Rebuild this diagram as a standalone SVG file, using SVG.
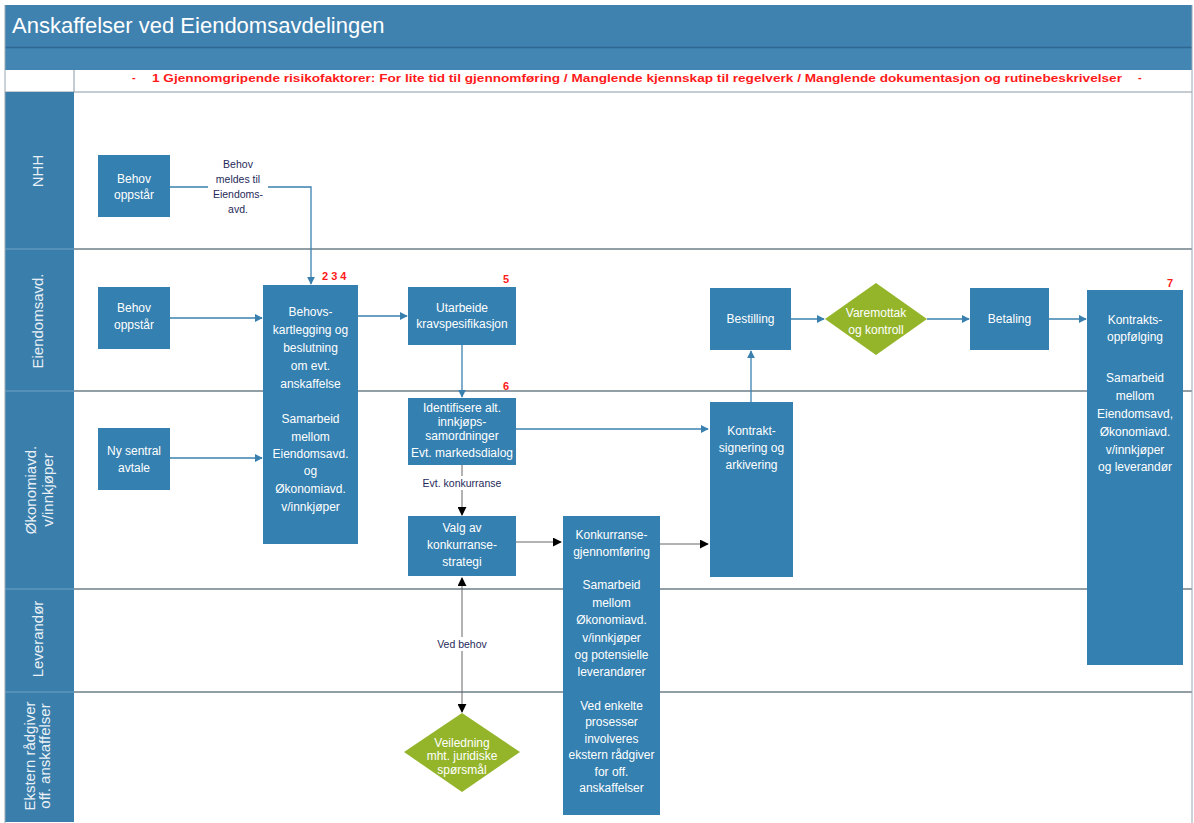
<svg xmlns="http://www.w3.org/2000/svg" width="1194" height="823" viewBox="0 0 1194 823">
<defs>
<style>
.node{fill:#3480b0;}
.dia{fill:#94b52a;}
.nt{font-family:"Liberation Sans","DejaVu Sans",sans-serif;font-size:12px;fill:#ffffff;text-anchor:middle;}
.lbl{font-family:"Liberation Sans","DejaVu Sans",sans-serif;font-size:10.5px;fill:#1f2a5a;text-anchor:middle;}
.lane{font-family:"Liberation Sans","DejaVu Sans",sans-serif;font-size:15px;fill:#e8f0f6;text-anchor:middle;}
.red{font-family:"Liberation Sans","DejaVu Sans",sans-serif;font-size:11px;font-weight:bold;fill:#ff1a1a;}
.sep{stroke:#6f7f8a;stroke-width:1.5;}
.cb{fill:none;stroke:#3a80ae;stroke-width:1.3;marker-end:url(#ab);}
.ck{fill:none;stroke:#666666;stroke-width:1;marker-end:url(#ak);}
</style>
<marker id="ab" viewBox="0 0 10 10" refX="9" refY="5" markerWidth="8" markerHeight="8" markerUnits="userSpaceOnUse" orient="auto"><path d="M0,0 L10,5 L0,10 Z" fill="#3a80ae"/></marker>
<marker id="ak" viewBox="0 0 10 10" refX="9" refY="5" markerWidth="9" markerHeight="9" markerUnits="userSpaceOnUse" orient="auto"><path d="M0,0 L10,5 L0,10 Z" fill="#000000"/></marker>
<marker id="aks" viewBox="0 0 10 10" refX="1" refY="5" markerWidth="9" markerHeight="9" markerUnits="userSpaceOnUse" orient="auto"><path d="M10,0 L0,5 L10,10 Z" fill="#000000"/></marker>
</defs>

<g id="frame">
<rect x="0" y="0" width="1194" height="823" fill="#ffffff"/>
<rect x="5" y="5" width="1187" height="43" fill="#3f82b0"/>
<rect x="5" y="48" width="1187" height="22" fill="#4386b3"/>
<line x1="5" y1="47.5" x2="1192" y2="47.5" stroke="#2d6690" stroke-width="1.5"/>
<rect x="5" y="70" width="1187" height="22" fill="#ffffff"/>
<line x1="74" y1="70" x2="74" y2="92" stroke="#8a9aa5" stroke-width="1"/>
<line x1="5" y1="92" x2="1192" y2="92" stroke="#8a9aa5" stroke-width="1"/>
<text x="12" y="33" font-family="'Liberation Sans','DejaVu Sans',sans-serif" font-size="22" fill="#ffffff">Anskaffelser ved Eiendomsavdelingen</text>
<text x="132" y="81" class="red" font-weight="normal" fill="#ff8080">-</text>
<text x="152" y="82" class="red" font-size="12.5" textLength="970" lengthAdjust="spacingAndGlyphs">1 Gjennomgripende risikofaktorer: For lite tid til gjennomføring / Manglende kjennskap til regelverk / Manglende dokumentasjon og rutinebeskrivelser</text>
<text x="1138" y="81" class="red" font-weight="normal" fill="#ff8080">-</text>
<rect x="5" y="92" width="69" height="730" fill="#3a7eab"/>
<line x1="5" y1="249" x2="74" y2="249" stroke="#5f97be" stroke-width="1.5"/>
<line x1="5" y1="391" x2="74" y2="391" stroke="#5f97be" stroke-width="1.5"/>
<line x1="5" y1="589" x2="74" y2="589" stroke="#5f97be" stroke-width="1.5"/>
<line x1="5" y1="692" x2="74" y2="692" stroke="#5f97be" stroke-width="1.5"/>
<line x1="74" y1="249" x2="1192" y2="249" class="sep"/>
<line x1="74" y1="391" x2="1192" y2="391" class="sep"/>
<line x1="74" y1="589" x2="1192" y2="589" class="sep"/>
<line x1="74" y1="692" x2="1192" y2="692" class="sep"/>
<line x1="1192" y1="5" x2="1192" y2="823" stroke="#9aa8b2" stroke-width="1"/>
<line x1="5" y1="5" x2="5" y2="823" stroke="#9aa8b2" stroke-width="1"/>
</g>

<g id="lanes">
<text class="lane" transform="translate(43,171) rotate(-90)">NHH</text>
<text class="lane" transform="translate(43,321) rotate(-90)">Eiendomsavd.</text>
<text class="lane" transform="translate(36,490) rotate(-90)">Økonomiavd.</text>
<text class="lane" transform="translate(53,490) rotate(-90)">v/innkjøper</text>
<text class="lane" transform="translate(43,639) rotate(-90)">Leverandør</text>
<text class="lane" font-size="13" transform="translate(35,756) rotate(-90)">Ekstern rådgiver</text>
<text class="lane" font-size="13" transform="translate(50,756) rotate(-90)">off. anskaffelser</text>
</g>

<g id="connectors">
<path class="cb" d="M170,187 H311 V284"/>
<rect x="208" y="156" width="60" height="60" fill="#ffffff"/>
<text class="lbl" x="238" y="168">Behov</text>
<text class="lbl" x="238" y="183">meldes til</text>
<text class="lbl" x="238" y="198">Eiendoms-</text>
<text class="lbl" x="238" y="213">avd.</text>
<path class="cb" d="M170,318 H262"/>
<path class="cb" d="M170,458 H262"/>
<path class="cb" d="M358,316 H407"/>
<path class="cb" d="M462,345 V397"/>
<path class="cb" d="M516,429 H708"/>
<path class="ck" d="M462,465 V515"/>
<rect x="415" y="476" width="94" height="14" fill="#ffffff"/>
<text class="lbl" x="462" y="487">Evt. konkurranse</text>
<path class="ck" d="M516,542 H561"/>
<path class="ck" d="M660,544 H708"/>
<path class="cb" d="M751,402 V351"/>
<path class="cb" d="M791,319 H824"/>
<path class="cb" d="M927,319 H969"/>
<path class="cb" d="M1049,319 H1086"/>
<path class="ck" d="M462,578 V712" marker-start="url(#aks)"/>
<rect x="428" y="637" width="68" height="14" fill="#ffffff"/>
<text class="lbl" x="462" y="648">Ved behov</text>
</g>

<g id="n1">
<rect class="node" x="98" y="155" width="72" height="62"/>
<text class="nt" x="134" y="183">Behov</text>
<text class="nt" x="134" y="199">oppstår</text>
</g>
<g id="n2">
<rect class="node" x="98" y="287" width="72" height="62"/>
<text class="nt" x="134" y="312">Behov</text>
<text class="nt" x="134" y="329">oppstår</text>
</g>
<g id="n3">
<rect class="node" x="98" y="428" width="72" height="62"/>
<text class="nt" x="134" y="455">Ny sentral</text>
<text class="nt" x="134" y="472">avtale</text>
</g>
<g id="n4">
<rect class="node" x="263" y="285" width="95" height="259"/>
<text class="nt" x="310.5" y="316">Behovs-</text>
<text class="nt" x="310.5" y="334">kartlegging og</text>
<text class="nt" x="310.5" y="352">beslutning</text>
<text class="nt" x="310.5" y="370">om evt.</text>
<text class="nt" x="310.5" y="388">anskaffelse</text>
<text class="nt" x="310.5" y="423">Samarbeid</text>
<text class="nt" x="310.5" y="441">mellom</text>
<text class="nt" x="310.5" y="458">Eiendomsavd.</text>
<text class="nt" x="310.5" y="475">og</text>
<text class="nt" x="310.5" y="493">Økonomiavd.</text>
<text class="nt" x="310.5" y="511">v/innkjøper</text>
<text class="red" x="322" y="280">2 3 4</text>
</g>
<g id="n5">
<rect class="node" x="408" y="287" width="108" height="58"/>
<text class="nt" x="462" y="312">Utarbeide</text>
<text class="nt" x="462" y="328">kravspesifikasjon</text>
<text class="red" x="503" y="283">5</text>
</g>
<g id="n6">
<rect class="node" x="408" y="398" width="108" height="67"/>
<text class="nt" font-size="11" x="462" y="412">Identifisere alt.</text>
<text class="nt" font-size="11" x="462" y="426">innkjøps-</text>
<text class="nt" font-size="11" x="462" y="440">samordninger</text>
<text class="nt" font-size="11" x="462" y="457">Evt. markedsdialog</text>
<text class="red" x="503" y="390">6</text>
</g>
<g id="n7">
<rect class="node" x="408" y="516" width="108" height="60"/>
<text class="nt" x="462" y="532">Valg av</text>
<text class="nt" x="462" y="549">konkurranse-</text>
<text class="nt" x="462" y="566">strategi</text>
</g>
<g id="n8">
<rect class="node" x="563" y="516" width="97" height="299"/>
<text class="nt" font-size="11.5" x="611.5" y="539">Konkurranse-</text>
<text class="nt" font-size="11.5" x="611.5" y="556">gjennomføring</text>
<text class="nt" font-size="11.5" x="611.5" y="589">Samarbeid</text>
<text class="nt" font-size="11.5" x="611.5" y="607">mellom</text>
<text class="nt" font-size="11.5" x="611.5" y="624">Økonomiavd.</text>
<text class="nt" font-size="11.5" x="611.5" y="642">v/innkjøper</text>
<text class="nt" font-size="11.5" x="611.5" y="659">og potensielle</text>
<text class="nt" font-size="11.5" x="611.5" y="676">leverandører</text>
<text class="nt" font-size="11.5" x="611.5" y="710">Ved enkelte</text>
<text class="nt" font-size="11.5" x="611.5" y="726">prosesser</text>
<text class="nt" font-size="11.5" x="611.5" y="743">involveres</text>
<text class="nt" font-size="11.5" x="611.5" y="759">ekstern rådgiver</text>
<text class="nt" font-size="11.5" x="611.5" y="776">for off.</text>
<text class="nt" font-size="11.5" x="611.5" y="792">anskaffelser</text>
</g>
<g id="n9">
<rect class="node" x="710" y="402" width="83" height="175"/>
<text class="nt" x="751.5" y="435">Kontrakt-</text>
<text class="nt" x="751.5" y="452">signering og</text>
<text class="nt" x="751.5" y="469">arkivering</text>
</g>
<g id="n10">
<rect class="node" x="710" y="288" width="81" height="62"/>
<text class="nt" x="750.5" y="323">Bestilling</text>
</g>
<g id="n11">
<polygon class="dia" points="876,283 927,319 876,355 825,319"/>
<text class="nt" x="876" y="317">Varemottak</text>
<text class="nt" x="876" y="334">og kontroll</text>
</g>
<g id="n12">
<rect class="node" x="970" y="288" width="79" height="62"/>
<text class="nt" x="1009.5" y="323">Betaling</text>
</g>
<g id="n13">
<rect class="node" x="1087" y="290" width="96" height="375"/>
<text class="nt" x="1135" y="324">Kontrakts-</text>
<text class="nt" x="1135" y="341">oppfølging</text>
<text class="nt" x="1135" y="382">Samarbeid</text>
<text class="nt" x="1135" y="400">mellom</text>
<text class="nt" x="1135" y="418">Eiendomsavd,</text>
<text class="nt" x="1135" y="436">Økonomiavd.</text>
<text class="nt" x="1135" y="454">v/innkjøper</text>
<text class="nt" x="1135" y="471">og leverandør</text>
<text class="red" x="1167" y="287">7</text>
</g>
<g id="n14">
<polygon class="dia" points="462,713 520,752 462,792 404,752"/>
<text class="nt" font-size="11.5" x="462" y="747">Veiledning</text>
<text class="nt" font-size="11.5" x="462" y="760">mht. juridiske</text>
<text class="nt" font-size="11.5" x="462" y="774">spørsmål</text>
</g>
</svg>
